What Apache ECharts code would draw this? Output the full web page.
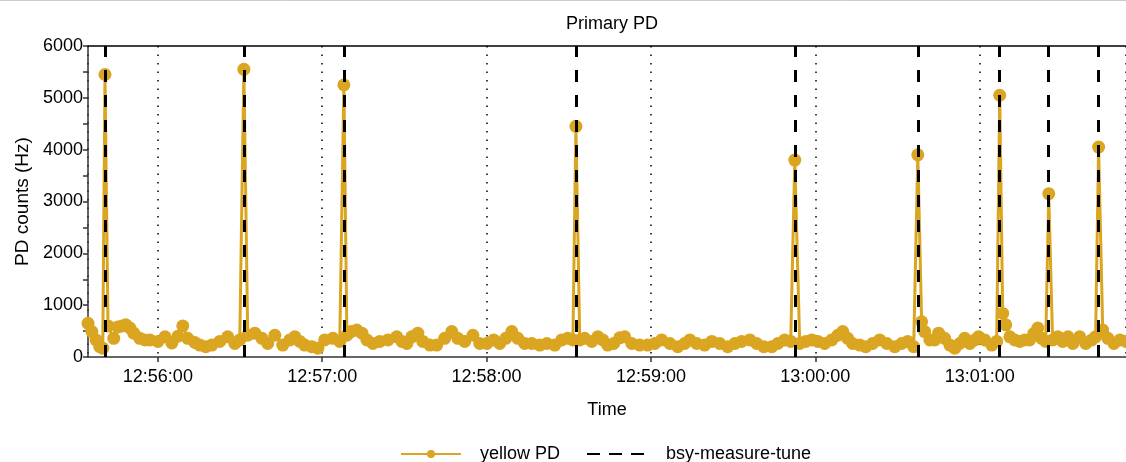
<!DOCTYPE html>
<html>
<head>
<meta charset="utf-8">
<script src="https://cdn.jsdelivr.net/npm/echarts@6/dist/echarts.min.js"></script>
<style>
html,body{margin:0;padding:0;background:#fff;}
#main{width:1126px;height:462px;}
</style>
</head>
<body>
<div id="main"></div>
<script>
// seconds after 12:55:00 and PD counts
var pdSec = [34.5,35.9,37.4,38.8,39.9,41.8,43.9,45.4,46.9,48.3,49.8,51.2,53.4,55.3,57.1,60,62.6,65.1,67.3,69.1,70.9,73.5,75.3,77.5,79.7,82.6,85.5,88.1,89.9,
	92.8,95.4,98.0,100.1,102.7,105.6,108.2,110.0,111.8,113.6,116.2,118.4,120.9,123.9,126.4,
	129.0,130.5,132.6,134.5,136.3,138.5,141.0,144.0,147.2,149.1,150.9,152.7,154.9,156.7,159.3,161.8,164.7,167.3,169.5,172.0,175.0,177.5,180.1,182.6,184.8,187.0,189.2,191.4,193.9,196.5,199.4,202.0,204.9,207.4,209.6,211.5,
	214.0,215.8,218.4,220.6,222.4,224.2,226.4,228.6,230.4,233.0,235.9,238.8,241.4,243.9,246.9,249.8,252.3,254.2,256.7,259.6,262.2,265.1,268.0,270.6,273.1,276.1,278.6,281.2,284.1,286.3,288.8,291.0,
	294.3,296.5,298.7,300.9,303.4,306.0,308.2,310.0,311.8,313.6,316.2,318.4,320.9,323.5,326.1,329.0,331.5,333.7,335.9,
	338.8,339.9,341.8,343.6,345.0,347.2,349.1,350.9,352.7,354.5,356.4,358.2,359.6,361.8,364.4,366.2,
	368.4,369.5,371.0,372.8,374.6,376.4,378.2,379.7,381.2,382.6,384.1,
	386.6,388.5,390.3,392.2,394.0,396.5,398.7,400.9,402.3,
	404.9,406.8,409.0,411.2,413.4];
var pdVal = [650,490,330,200,170,600,360,580,600,620,560,460,360,330,330,300,390,270,400,600,360,280,230,200,230,300,390,260,330,
	420,460,360,260,420,230,330,390,300,230,200,170,330,360,300,
	420,490,520,460,330,260,300,330,390,300,260,390,460,300,230,230,360,490,360,300,420,260,260,330,260,360,490,360,260,260,230,260,230,330,360,330,
	330,360,300,390,330,230,260,370,390,260,230,230,260,330,260,200,260,330,260,230,300,260,200,260,300,330,260,200,200,260,330,300,
	260,300,330,300,260,330,420,490,360,260,230,200,260,330,260,200,260,300,200,
	680,490,330,330,460,360,230,170,260,360,260,330,390,330,230,300,
	840,620,390,330,300,330,330,450,560,360,300,
	330,390,300,390,260,390,260,330,390,
	520,360,260,330,300];
// bsy-measure-tune times and the PD peak at each
var tuneSec = [40.7,91.4,127.9,212.6,292.5,337.4,367.3,385.2,403.4];
var tunePeak = [5450,5550,5250,4450,3800,3900,5050,3150,4050];
var yTicks = [0,1000,2000,3000,4000,5000,6000];

var t0 = new Date(2024,0,1,12,55,0).getTime();
function toTime(s){ return t0 + Math.round(s*1000); }
function pad(n){ return n < 10 ? '0'+n : ''+n; }

var pd = [];
for(var i = 0;i < pdSec.length;i ++){
	pd.push([toTime(pdSec[i]), pdVal[i]]);
}
for(var j = 0;j < tuneSec.length;j ++){
	pd.push([toTime(tuneSec[j]), tunePeak[j]]);
}
pd.sort(function(a,b){ return a[0]-b[0]; });

var font = 'Liberation Sans';
var chart = echarts.init(document.getElementById('main'));
chart.setOption({
	animation:false,
	title:{
		text:'Primary PD',
		left:607,
		textAlign:'center',
		top:10,
		textStyle:{fontFamily:font,fontSize:18,fontWeight:'normal',color:'#000'}
	},
	graphic:[{
		type:'line',
		shape:{x1:0,y1:0.5,x2:1126,y2:0.5},
		style:{stroke:'#ccc',lineWidth:1}
	}],
	legend:{
		left:395,
		top:440,
		itemGap:26,
		itemWidth:60,
		itemHeight:10,
		textStyle:{fontFamily:font,fontSize:18,color:'#000',padding:[0,0,0,14]},
		data:['yellow PD','bsy-measure-tune']
	},
	grid:{left:88,right:0,top:46,bottom:105},
	xAxis:[{
		type:'time',
		min:toTime(34.5),
		max:toTime(413.4),
		minInterval:60000,
		maxInterval:60000,
		name:'Time',
		nameLocation:'middle',
		nameGap:44,
		nameTextStyle:{fontFamily:font,fontSize:18,color:'#000'},
		axisLine:{lineStyle:{color:'#333',width:1.5}},
		axisTick:{show:true,length:5,lineStyle:{color:'#333',width:1.5}},
		axisLabel:{
			fontFamily:font,fontSize:18,color:'#000',margin:11,
			showMinLabel:false,showMaxLabel:false,
			formatter:function(v){
				var d = new Date(v);
				return pad(d.getHours())+':'+pad(d.getMinutes())+':'+pad(d.getSeconds());
			}
		},
		splitLine:{show:true,lineStyle:{color:'#000',width:1.5,type:[1.5,7]}}
	},{
		type:'time',
		position:'top',
		min:toTime(34.5),
		max:toTime(413.4),
		axisLine:{show:true,lineStyle:{color:'#000',width:1.5}},
		axisTick:{show:false},
		axisLabel:{show:false},
		splitLine:{show:false}
	}],
	yAxis:{
		type:'value',
		min:yTicks[0],
		max:yTicks[yTicks.length-1],
		interval:1000,
		name:'PD counts (Hz)',
		nameLocation:'middle',
		nameGap:45,
		nameTextStyle:{fontFamily:font,fontSize:19,color:'#000'},
		axisLine:{show:true,lineStyle:{color:'#333',width:1.5}},
		axisTick:{show:true,length:5,lineStyle:{color:'#333',width:1.5}},
		minorTick:{show:true,splitNumber:2,length:5,lineStyle:{color:'#333',width:1.5}},
		axisLabel:{
			fontFamily:font,fontSize:18,color:'#000',margin:5,
			formatter:function(v){ return String(v); }
		},
		splitLine:{show:false}
	},
	series:[
		{
			name:'yellow PD',
			type:'line',
			z:2,
			data:pd,
			showAllSymbol:true,
			symbol:'circle',
			symbolSize:13,
			itemStyle:{color:'#daa520'},
			lineStyle:{color:'#daa520',width:3}
		},
		{
			name:'bsy-measure-tune',
			type:'line',
			z:5,
			data:[],
			symbol:'none',
			itemStyle:{color:'rgba(0,0,0,0)',borderWidth:0},
			lineStyle:{color:'#000',width:3,type:[13,9]},
			markLine:{
				silent:true,
				symbol:['none','none'],
				label:{show:false},
				lineStyle:{color:'#000',width:3,type:[12,13]},
				data:tuneSec.map(function(s){ return {xAxis:toTime(s)}; })
			}
		}
	]
});
</script>
</body>
</html>
